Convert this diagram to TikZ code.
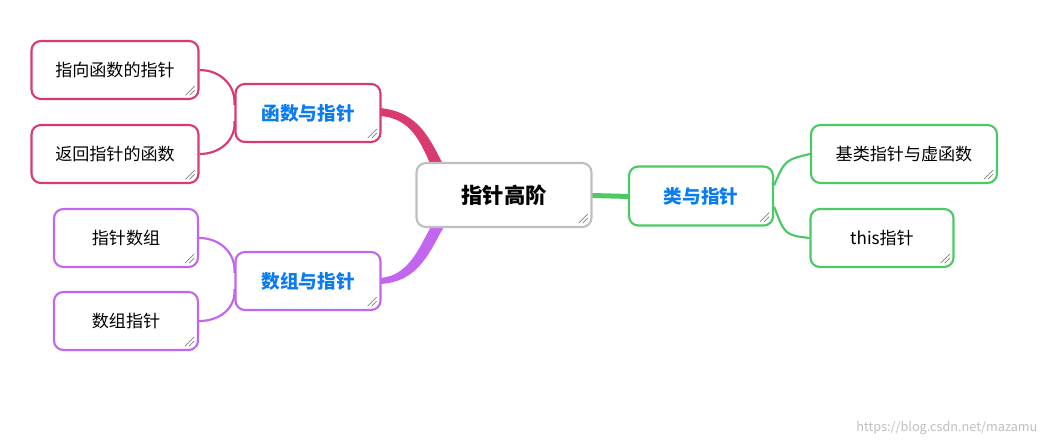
\documentclass[tikz,border=0pt]{standalone}
\usepackage{fontspec}
\setmainfont{Noto Sans CJK SC}
\begin{document}
\begin{tikzpicture}[x=0.75pt,y=-0.75pt]
\definecolor{pk}{HTML}{D93B6E}
\definecolor{pu}{HTML}{C266F0}
\definecolor{gr}{HTML}{4CC864}
\definecolor{bl}{HTML}{0A7CF0}
\useasboundingbox[fill=white] (0,0) rectangle (1049,447);
\tikzset{
 box/.style={draw=#1,line width=1.6pt,rounded corners=7pt,fill=white,align=center,inner sep=0pt},
 leaf/.style={font=\fontsize{12.8}{15}\selectfont},
 par/.style={font=\fontsize{14}{16}\selectfont\bfseries,text=bl},
 wire/.style={draw=#1,line width=1.6pt},
}
\fill[pk] (380,108) .. controls (420,112) and (430,140) .. (445,168) -- (432,168) .. controls (420,140) and (410,118) .. (380,116) -- cycle;
\fill[pu] (380,278) .. controls (410,276) and (420,245) .. (432,225) -- (445,225) .. controls (430,250) and (420,282) .. (380,284) -- cycle;
\fill[gr] (592,193) -- (630,194) -- (630,199) -- (592,198) -- cycle;
\node[box=pk,minimum width=108.75pt,minimum height=43.5pt,par] (f) at (308,113) {函数与指针};
\node[box=pk,minimum width=125.25pt,minimum height=43.5pt,leaf] (f1) at (115,70) {指向函数的指针};
\node[box=pk,minimum width=125.25pt,minimum height=43.5pt,leaf] (f2) at (115,154) {返回指针的函数};
\node[box=pu,minimum width=108.75pt,minimum height=43.5pt,par] (a) at (308,281) {数组与指针};
\node[box=pu,minimum width=108pt,minimum height=43.5pt,leaf] (a1) at (126,238) {指针数组};
\node[box=pu,minimum width=108pt,minimum height=43.5pt,leaf] (a2) at (126,321) {数组指针};
\node[box=gr,minimum width=108pt,minimum height=44.25pt,par] (c) at (701,196) {类与指针};
\node[box=gr,minimum width=139.5pt,minimum height=43.5pt,leaf] (c1) at (904,154) {基类指针与虚函数};
\node[box=gr,minimum width=107.25pt,minimum height=43.5pt,leaf] (c2) at (882,238) {this指针};
\node[box=black!25,minimum width=131.25pt,minimum height=48pt,font=\fontsize{16}{19}\selectfont\bfseries] (m) at (504,195) {指针高阶};
\draw[wire=pk] (f1.east) .. controls (220,70) and (236,85) .. ([yshift=6pt]f.west);
\draw[wire=pk] (f2.east) .. controls (220,154) and (236,140) .. ([yshift=-6pt]f.west);
\draw[wire=pu] (a1.east) .. controls (220,238) and (236,253) .. ([yshift=6pt]a.west);
\draw[wire=pu] (a2.east) .. controls (220,321) and (236,308) .. ([yshift=-6pt]a.west);
\draw[wire=gr] ([yshift=8pt]c.east) .. controls (785,160) .. (c1.west);
\draw[wire=gr] ([yshift=-8pt]c.east) .. controls (785,235) .. (c2.west);
\foreach \n in {f,f1,f2,a,a1,a2,c,c1,c2,m}{
 \draw[black!60,line width=0.4pt] ([shift={(-14,-5)}]\n.south east) -- ([shift={(-5,-14)}]\n.south east)
   ([shift={(-10,-5)}]\n.south east) -- ([shift={(-5,-10)}]\n.south east);
}
\node[anchor=east,text=black!25,font=\fontsize{9.5}{11}\selectfont] (w) at (1042,428) {https://blog.csdn.net/mazamu};
\end{tikzpicture}
\end{document}
